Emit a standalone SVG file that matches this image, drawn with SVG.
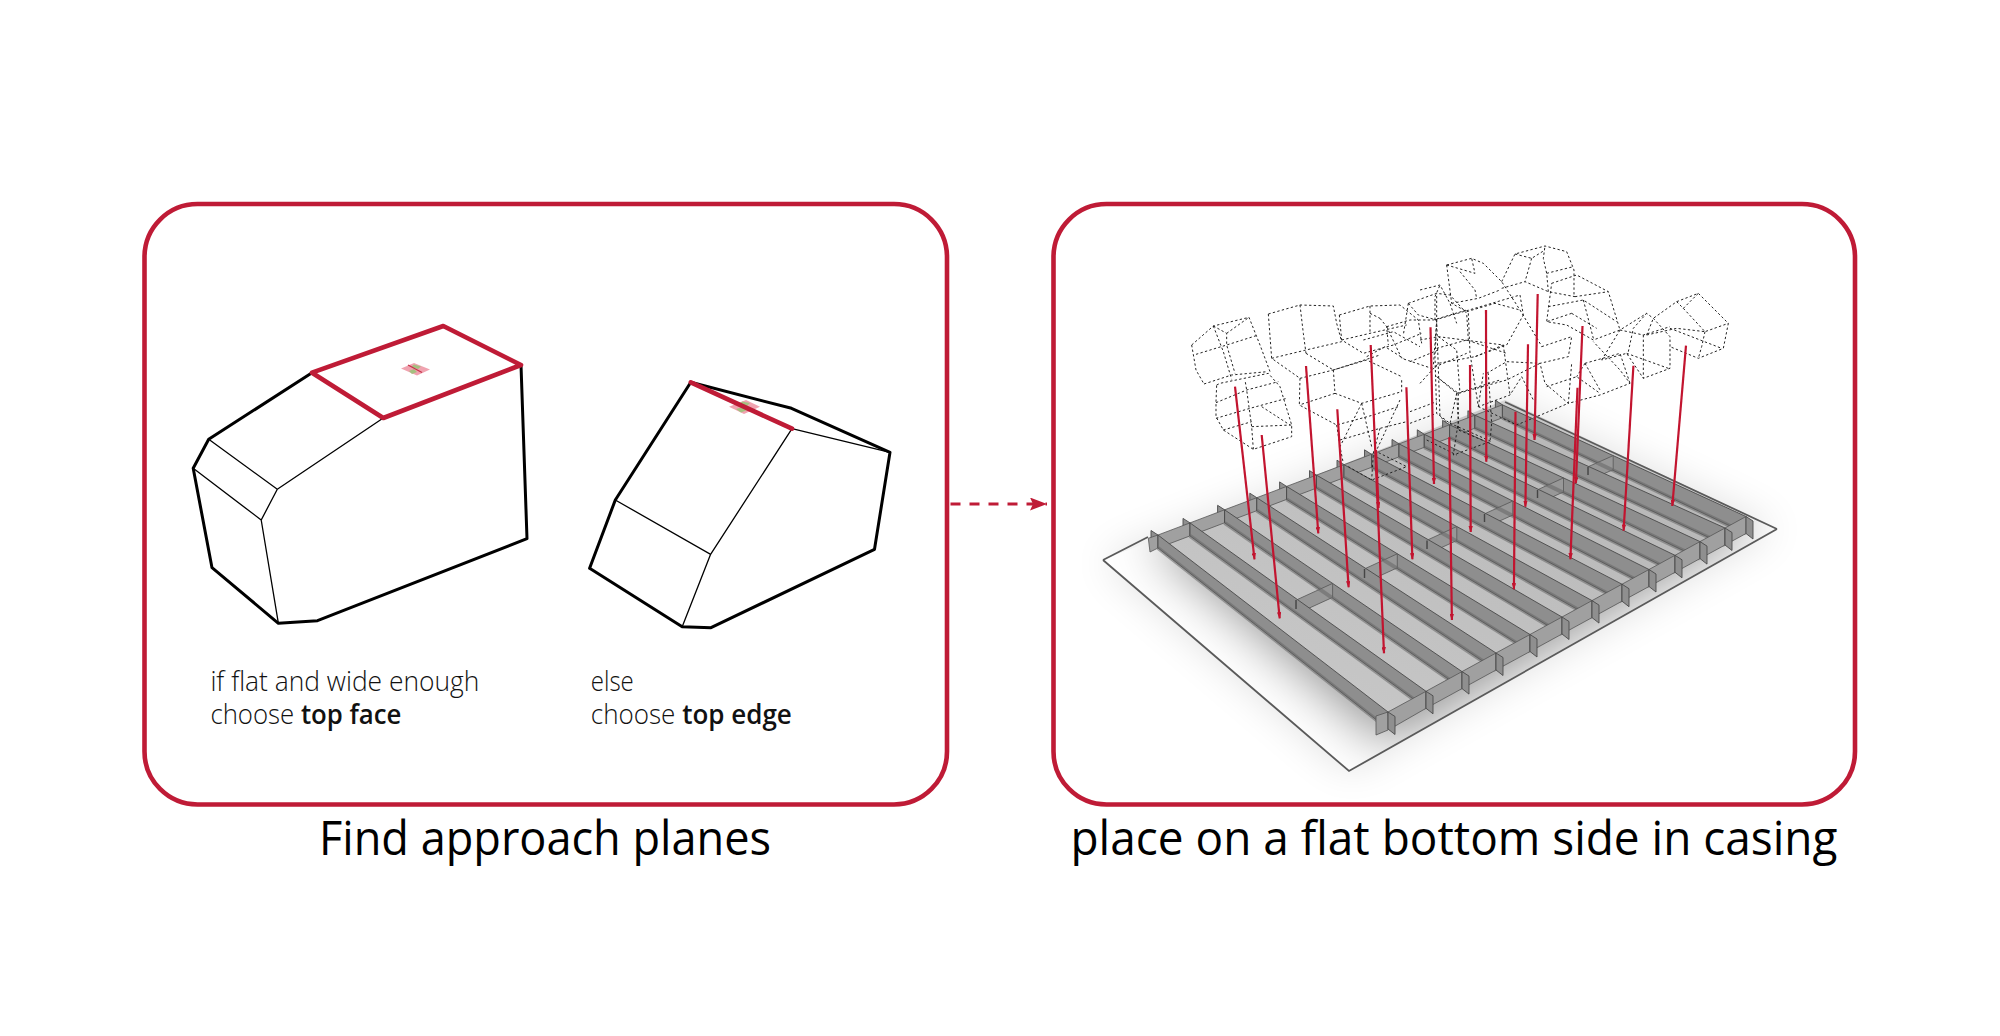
<svg xmlns="http://www.w3.org/2000/svg" xmlns:xlink="http://www.w3.org/1999/xlink" width="2000" height="1036" viewBox="0 0 2000 1036">
<style>
.panel{fill:#fff;stroke:#bf1b36;stroke-width:4.6}
.o{fill:none;stroke:#000;stroke-width:3;stroke-linejoin:round;stroke-linecap:round}
.i{fill:none;stroke:#000;stroke-width:1.3;stroke-linecap:round}
.r{fill:none;stroke:#bf1b36;stroke-width:4.6;stroke-linejoin:round;stroke-linecap:round}
.t{font-family:"Open Sans","Noto Sans",sans-serif;fill:#111;font-size:27px;font-weight:300}
.b{font-weight:600}
.h{font-family:"Open Sans","Noto Sans",sans-serif;fill:#000;font-size:48px}
.w{fill:#8e8e8e;stroke:#4a4a4a;stroke-width:.9;stroke-linejoin:round}
.p{fill:#a0a0a0;stroke:#555;stroke-width:.8;stroke-linejoin:round}
.c{fill:#989898;stroke:#555;stroke-width:.8;stroke-linejoin:round}
.base{fill:none;stroke:#666;stroke-width:4;opacity:.55}
.tick{stroke:#444;stroke-width:1.4}
.d{fill:none;stroke:#222;stroke-width:3;stroke-dasharray:7 7}
.a{stroke:#c2142f;stroke-width:2.2;fill:none;marker-end:url(#ah)}
</style>
<defs>
<marker id="ah" markerWidth="3" markerHeight="2" refX="2.8" refY="1" orient="auto" markerUnits="strokeWidth"><path d="M0 0L3 1L0 2Z" fill="#c2142f"/></marker>
<marker id="big" markerWidth="18" markerHeight="14" refX="17" refY="6.5" orient="auto" markerUnits="userSpaceOnUse"><path d="M0 0L17 6.5L0 13L3 6.5Z" fill="#bf1b36"/></marker>
<filter id="sh1" x="-20%" y="-20%" width="140%" height="140%"><feGaussianBlur stdDeviation="20"/></filter>
<filter id="sh2" x="-30%" y="-30%" width="160%" height="160%"><feGaussianBlur stdDeviation="26"/></filter>
<filter id="soft" x="-5%" y="-5%" width="110%" height="110%"><feGaussianBlur stdDeviation=".45"/></filter>
<clipPath id="plateclip"><path d="M1103 560L1349 771L1777 529L1505 400Z"/></clipPath>
<linearGradient id="fl" x1="0" y1="1" x2="1" y2="0"><stop offset="0" stop-color="#cbcbcb"/><stop offset="1" stop-color="#b4b4b4"/></linearGradient>
<path id="fs" d="M0 0L7 4.500V22.500L0 17Z" fill="#8f8f8f" stroke="#4a4a4a" stroke-width=".9"/>
<path id="bs" d="M0 0L-7 -4.500V8.500L0 13Z" fill="#8f8f8f" stroke="#4a4a4a" stroke-width=".9"/>
</defs>
<rect width="2000" height="1036" fill="#fff"/>

<g id="panel-left">
<rect class="panel" x="144.500" y="204" width="802.500" height="600.500" rx="53"/>
<text class="h" x="319" y="855" textLength="452" lengthAdjust="spacingAndGlyphs">Find approach planes</text>
</g>
<g id="panel-right">
<rect class="panel" x="1053.500" y="204" width="801.500" height="600.500" rx="53"/>
<text class="h" x="1070.500" y="855" textLength="767" lengthAdjust="spacingAndGlyphs">place on a flat bottom side in casing</text>
</g>

<g id="block-top-face">
<path class="o" d="M312 372.700L208.700 439.300L193.200 468.300L212 567.700L278.400 623.300L317.500 620.700L527 538.700L521 365"/>
<path class="i" d="M208.700 439.300L277.300 489.300L383.300 418M193.200 468.300L261.200 520L277.300 489.300M261.200 520L278.400 623.300"/>
<path d="M401 368.500L414 363L430 369.500L417 375.500Z" fill="#f0a3b0"/>
<path d="M414 364.500L421 366.500L418 369L411 367ZM409 371L414 369L417 372L412 374Z" fill="#a5c080"/>
<path d="M408 365L422 372.500" stroke="#c7334b" stroke-width="1.300" fill="none"/>
<path class="r" d="M312 372.700L443.300 326L521 365L383.300 418Z"/>
</g>
<g id="block-top-edge">
<path class="o" d="M690.800 382.300L791.500 408.300L890 452.300L874.500 549.300L711 627.700L682.200 626.700L589.600 568.300L615.300 500Z"/>
<path class="i" d="M792 428.700L890 452.300M792 428.700L710.600 554.300L615.300 500M710.600 554.300L682.200 626.700"/>
<path d="M729 406.700L746 400L760 406.700L744 414Z" fill="#f0a3b0"/>
<path d="M742 401.500L750 403L746 407L739 405ZM736 409L743 407L747 410L741 412.500Z" fill="#a5c080"/>
<path class="r" d="M690.800 382.300L792 428.700"/>
</g>
<g id="label-top-face"><text class="t" x="210.400" y="690.700" textLength="269" lengthAdjust="spacingAndGlyphs">if flat and wide enough</text>
<text class="t" x="210.400" y="724" textLength="191" lengthAdjust="spacingAndGlyphs">choose <tspan class="b">top face</tspan></text></g>
<g id="label-top-edge"><text class="t" x="590.800" y="690.700" textLength="43" lengthAdjust="spacingAndGlyphs">else</text>
<text class="t" x="590.800" y="724" textLength="201" lengthAdjust="spacingAndGlyphs">choose <tspan class="b">top edge</tspan></text></g>

<g id="connectors">
<path d="M950.500 504H1047" stroke="#bf1b36" stroke-width="3" stroke-dasharray="10 9" fill="none" marker-end="url(#big)"/>
</g>

<g id="casing">
<path d="M1103 560L1349 771L1777 529L1505 400Z" fill="#000" opacity=".12" filter="url(#sh1)"/>
<path d="M1103 560L1349 771L1777 529L1505 400Z" fill="#fff"/>
<g clip-path="url(#plateclip)"><path d="M1150 540L1502 400L1760 525L1388 745Z" fill="#000" opacity=".42" filter="url(#sh2)"/></g>
<path d="M1103 560L1349 771L1777 529M1103 560L1148 537M1777 529L1505 402" fill="none" stroke="#5a5a5a" stroke-width="1.800"/>
<g filter="url(#soft)">
<g>
<use xlink:href="#bs" href="#bs" x="1158" y="535"/><use xlink:href="#bs" href="#bs" x="1190" y="522.900"/><use xlink:href="#bs" href="#bs" x="1224.600" y="509.800"/><use xlink:href="#bs" href="#bs" x="1256.800" y="497.700"/><use xlink:href="#bs" href="#bs" x="1286.600" y="486.400"/><use xlink:href="#bs" href="#bs" x="1316.500" y="475.100"/><use xlink:href="#bs" href="#bs" x="1344" y="464.700"/><use xlink:href="#bs" href="#bs" x="1371.500" y="454.300"/><use xlink:href="#bs" href="#bs" x="1399" y="443.900"/><use xlink:href="#bs" href="#bs" x="1424.300" y="434.300"/><use xlink:href="#bs" href="#bs" x="1449.600" y="424.800"/><use xlink:href="#bs" href="#bs" x="1474.900" y="415.200"/><use xlink:href="#bs" href="#bs" x="1502.400" y="404.800"/>
</g>
<path d="M1158 548L1502.400 417.800L1746 533.500L1388 729Z" fill="url(#fl)"/>
<path class="p" d="M1148.300 538.300L1158 535V548L1150 552ZM1158 535L1190 522.900V535.900L1158 548ZM1190 522.900L1224.600 509.800V522.800L1190 535.900ZM1224.600 509.800L1256.800 497.700V510.700L1224.600 522.800ZM1256.800 497.700L1286.600 486.400V499.400L1256.800 510.700ZM1286.600 486.400L1316.500 475.100V488.100L1286.600 499.400ZM1316.500 475.100L1344 464.700V477.700L1316.500 488.100ZM1344 464.700L1371.500 454.300V467.300L1344 477.700ZM1371.500 454.300L1399 443.900V456.900L1371.500 467.300ZM1399 443.900L1424.300 434.300V447.300L1399 456.900ZM1424.300 434.300L1449.600 424.800V437.800L1424.300 447.300ZM1449.600 424.800L1474.900 415.200V428.200L1449.600 437.800ZM1474.900 415.200L1502.400 404.800V417.800L1474.900 428.200Z"/>
<path class="w" d="M1502.400 404.800L1746 516.500V533.500L1502.400 417.800Z"/>
<path class="c" d="M1613.200 455.600L1588.700 466.500V480.500L1613.200 469.600Z"/>
<path class="w" d="M1474.900 415.200L1725 528V545L1474.900 428.200Z"/>
<path class="w" d="M1449.600 424.800L1700 541.600V558.600L1449.600 437.800Z"/>
<path class="c" d="M1563.500 477.900L1538.400 489.400V503.400L1563.500 491.900Z"/>
<path class="w" d="M1424.300 434.300L1675 555.300V572.300L1424.300 447.300Z"/>
<path class="w" d="M1399 443.900L1649 569.500V586.500L1399 456.900Z"/>
<path class="c" d="M1512.800 501L1485.500 513.400V527.400L1512.800 515Z"/>
<path class="w" d="M1371.500 454.300L1622 584.200V601.200L1371.500 467.300Z"/>
<path class="w" d="M1344 464.700L1592 600.600V617.600L1344 477.700Z"/>
<path class="c" d="M1456.800 526.500L1428.200 539.700V553.700L1456.800 540.500Z"/>
<path class="w" d="M1316.500 475.100L1562 617V634L1316.500 488.100Z"/>
<path class="w" d="M1286.600 486.400L1530 634.500V651.500L1286.600 499.400Z"/>
<path class="c" d="M1397.300 553.800L1365.600 568.400V582.400L1397.300 567.800Z"/>
<path class="w" d="M1256.800 497.700L1496 653V670L1256.800 510.700Z"/>
<path class="w" d="M1224.600 509.800L1462 671.600V688.600L1224.600 522.800Z"/>
<path class="c" d="M1332.600 583.400L1297.400 599.500V613.500L1332.600 597.400Z"/>
<path class="w" d="M1190 522.900L1426 691.300V708.300L1190 535.900Z"/>
<path class="w" d="M1158 535L1388 712V729L1158 548Z"/>
<path class="base" d="M1502.400 417.800L1746 533.500M1474.900 428.200L1725 545M1449.600 437.800L1700 558.600M1424.300 447.300L1675 572.300M1399 456.900L1649 586.500M1371.500 467.300L1622 601.200M1344 477.700L1592 617.600M1316.500 488.100L1562 634M1286.600 499.400L1530 651.500M1256.800 510.700L1496 670M1224.600 522.800L1462 688.600M1190 535.900L1426 708.300M1158 548L1388 729"/>
<path class="tick" d="M1296 600V609M1364.500 569V578M1427 540.500V549M1484.500 514V522M1537.500 490V498M1588 467V475"/>
<path class="p" d="M1376 716L1388 712V730L1376 735ZM1388 712L1426 691.300V708.300L1390 729ZM1426 691.300L1462 671.600V688.600L1426 708.300ZM1462 671.600L1496 653V670L1462 688.600ZM1496 653L1530 634.500V651.500L1496 670ZM1530 634.500L1562 617V634L1530 651.500ZM1562 617L1592 600.600V617.600L1562 634ZM1592 600.600L1622 584.200V601.200L1592 617.600ZM1622 584.200L1649 569.500V586.500L1622 601.200ZM1649 569.500L1675 555.300V572.300L1649 586.500ZM1675 555.300L1700 541.600V558.600L1675 572.300ZM1700 541.600L1725 528V545L1700 558.600ZM1725 528L1746 516.500V533.500L1725 545Z"/>
<use xlink:href="#fs" href="#fs" x="1388" y="712"/><use xlink:href="#fs" href="#fs" x="1426" y="691.300"/><use xlink:href="#fs" href="#fs" x="1462" y="671.600"/><use xlink:href="#fs" href="#fs" x="1496" y="653"/><use xlink:href="#fs" href="#fs" x="1530" y="634.500"/><use xlink:href="#fs" href="#fs" x="1562" y="617"/><use xlink:href="#fs" href="#fs" x="1592" y="600.600"/><use xlink:href="#fs" href="#fs" x="1622" y="584.200"/><use xlink:href="#fs" href="#fs" x="1649" y="569.500"/><use xlink:href="#fs" href="#fs" x="1675" y="555.300"/><use xlink:href="#fs" href="#fs" x="1700" y="541.600"/><use xlink:href="#fs" href="#fs" x="1725" y="528"/><use xlink:href="#fs" href="#fs" x="1746" y="516.500"/>
</g>
</g>

<g id="stones">
<g transform="translate(1180 290) scale(.33333)">
<path class="d" d="M35 165L100 108L207 82L240 165L272 250M35 165L48 240L72 282M48 193L140 165L235 135M100 108L130 185L155 268M140 130L207 82M100 108L140 130L140 165L165 250M72 282L155 255L262 245"/>
<path class="d" d="M110 285L120 280L265 250L300 290L335 405L335 440L220 478L130 420L108 380L108 335L110 285M108 338L200 300L295 275M108 385L210 355L320 325M220 478L215 410L200 300L195 270M215 410L335 405M130 420L215 395M245 350L330 405"/>
<path class="d" d="M265 72L360 45L460 48L470 100L485 155M265 72L275 205L360 265M360 45L370 130L378 190M275 205L378 180L485 155M378 190L460 240M360 265L460 240L600 195M360 265L358 345L470 405L580 375L655 350"/>
<path class="d" d="M478 75L570 48L660 45L715 90L725 160M478 75L485 150L550 190L640 165L725 130M570 48L570 130M485 150L570 130L680 105M600 85L620 110L625 165M570 70L600 85"/>
<path class="d" d="M460 240L465 310L545 340L665 305L665 265M460 240L560 210L665 260M465 310L358 345M545 340L480 470L490 520M545 340L575 470M470 405L480 470M480 450L600 415L680 395M600 415L580 490L575 570M660 330L590 480M505 530L575 570L680 530L590 485"/>
<path class="d" d="M685 40L770 10L810 15L860 70L865 150M685 40L670 135M620 110L690 90L760 90L860 60M685 40L715 75L770 90L770 10M770 90L760 230"/>
<path class="d" d="M770 100L765 200L770 370L810 400L830 310L770 260M770 175L860 150L980 190M830 310L960 270M830 310L835 395L820 495L930 455L935 400L925 250M810 400L935 455M740 450L830 495"/>
<path class="d" d="M620 110L665 205L755 235L860 190M690 215L775 180M560 200L615 170L670 205M690 400L770 370M690 365L770 335M550 150L640 125L720 170"/>
</g>
<g transform="translate(1420 240) scale(.33333)">
<path class="d" d="M80 75L155 55L190 70L245 125L300 210M80 75L95 190L140 215L225 190L300 210M80 75L165 100L155 55M120 95L165 150L170 175M95 190L175 175L240 150"/>
<path class="d" d="M245 125L285 42L375 18L440 35L462 90L462 170M285 42L335 55L375 30M335 55L315 125M245 145L315 125L385 155L465 170M385 155L380 100L370 55L375 18M380 100L460 80"/>
<path class="d" d="M395 130L470 105L565 155L600 270L520 300L440 255L380 245L395 130M465 170L565 155M385 200L490 180L590 245M490 180L520 295M455 220L380 245M455 220L530 265"/>
<path class="d" d="M365 320L455 290L445 350L360 370L375 430L445 490L540 465L630 430L600 390L520 305M495 370L600 340L630 430M380 440L470 410L540 460M495 370L540 450M495 370L470 410"/>
<path class="d" d="M545 360L600 270L680 220L700 235L750 290L750 385L670 415L620 340L545 360M625 335L640 265L680 220M600 270L670 285L750 260M670 285L670 415M620 340L745 385"/>
<path class="d" d="M680 285L700 235L770 185L835 160L925 250L910 325L835 355L750 320M790 205L855 275L925 250M770 185L790 205L835 160M680 285L770 265L855 275M750 265L905 325M855 275L845 320L835 355"/>
<path class="d" d="M45 240L130 215L300 165L310 225M50 240L60 530L85 550M115 460L115 570L210 610M50 410L115 460L260 420L360 370M55 290L250 315L165 350M145 220L150 340L175 500L270 465L305 410L340 480M175 500L290 555L445 490L455 370"/>
<path class="d" d="M0 150L60 135L90 190L110 250M45 240L45 170L60 135M0 300L55 290L110 330L120 460M0 430L55 370L165 350L260 315L310 225M250 315L270 465M200 400L260 365L360 370M175 500L190 400M300 210L360 310L365 320"/>
</g>
</g>

<g id="drop-arrows">
<path class="a" d="M1235 386.700L1254.500 559.300"/>
<path class="a" d="M1261.700 435L1279.700 618.300"/>
<path class="a" d="M1306 366L1318.300 533.300"/>
<path class="a" d="M1337.300 409.300L1348.600 587.300"/>
<path class="a" d="M1370.700 345L1384 653.300"/>
<path class="a" d="M1376 450L1378.500 508"/>
<path class="a" d="M1406.400 387.300L1412.400 559.300"/>
<path class="a" d="M1430.500 327.300L1434 484"/>
<path class="a" d="M1449.300 437.300L1451.900 620"/>
<path class="a" d="M1470 365L1470.700 532"/>
<path class="a" d="M1486 310L1486.300 461.700"/>
<path class="a" d="M1515.500 411.700L1513.900 589.300"/>
<path class="a" d="M1528 344.300L1525.400 506.700"/>
<path class="a" d="M1537.700 294L1534.500 440"/>
<path class="a" d="M1577.500 387.700L1570.400 559.300"/>
<path class="a" d="M1582.500 326L1575.900 483.300"/>
<path class="a" d="M1633.400 365.700L1623.600 530.700"/>
<path class="a" d="M1686 345.700L1672.300 506"/>
</g>
</svg>
